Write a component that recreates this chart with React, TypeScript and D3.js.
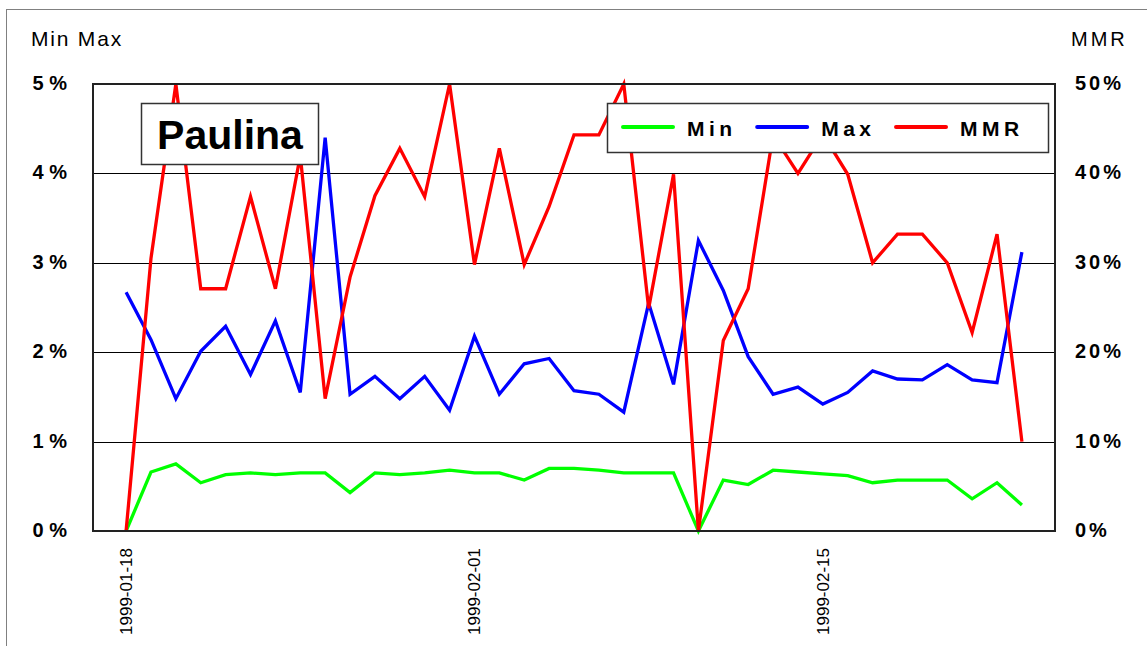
import * as d3 from 'd3';
import React, { useEffect, useRef } from 'react';

// daily values, 1999-01-18 .. 1999-02-23 (percent)
const startDate = '1999-01-18';
const endDate = '1999-02-23';

const minPct = [0, 0.66, 0.75, 0.54, 0.63, 0.65, 0.63, 0.65, 0.65, 0.43, 0.65, 0.63, 0.65, 0.68, 0.65, 0.65, 0.57, 0.70, 0.70, 0.68,
    0.65, 0.65, 0.65, 0, 0.57, 0.52, 0.68, 0.66, 0.64, 0.62, 0.54, 0.57, 0.57, 0.57, 0.36, 0.54, 0.29];

const maxPct = [2.67, 2.14, 1.48, 2.01, 2.29, 1.75, 2.35, 1.55, 4.40, 1.53, 1.73, 1.48, 1.73, 1.35, 2.18, 1.53, 1.87, 1.93, 1.57, 1.53,
    1.33, 2.55, 1.64, 3.25, 2.69, 1.95, 1.53, 1.61, 1.42, 1.55, 1.79, 1.70, 1.69, 1.86, 1.69, 1.66, 3.12];

const mmrPct = [0, 30.5, 50, 27.1, 27.1, 37.4, 27.1, 42, 14.8, 28.4, 37.5, 42.8, 37.4, 50, 29.8, 42.8, 29.8, 36.3, 44.3, 44.3,
    50, 24.9, 39.9, 0, 21.3, 27.1, 44.3, 40, 44.4, 39.9, 30, 33.2, 33.2, 30, 22.2, 33.2, 10];

const xTickLabels = ['1999-01-18', '1999-02-01', '1999-02-15'];
const leftTicks = [0, 1, 2, 3, 4, 5];
const rightTicks = [0, 10, 20, 30, 40, 50];

const seriesNames = ['Min', 'Max', 'MMR'];
const seriesColors = ['#00ff00', '#0000ff', '#ff0000'];

const FONT = 'Liberation Sans, Arial, Helvetica, sans-serif';

export default function App() {
    const ref = useRef<SVGSVGElement>(null);

    useEffect(() => {
        const width = 1147, height = 646;
        const plot = { left: 93, top: 84, right: 1055, bottom: 531 };

        const svg = d3.select(ref.current);
        svg.selectAll('*').remove();

        const parse = d3.utcParse('%Y-%m-%d');
        const dates = d3.utcDay.range(parse(startDate)!, d3.utcDay.offset(parse(endDate)!, 1));

        // category-like time axis with some room on both sides
        const padDays = 1.33;
        const x = d3.scaleUtc()
            .domain([new Date(+dates[0] - padDays * 864e5), new Date(+dates[dates.length - 1] + padDays * 864e5)])
            .range([plot.left, plot.right]);

        const yLeft = d3.scaleLinear().domain([0, 5]).range([plot.bottom, plot.top]);
        const yRight = d3.scaleLinear().domain([0, 50]).range([plot.bottom, plot.top]);

        // outer frame
        svg.append('rect')
            .attr('x', 6.5).attr('y', 9.5)
            .attr('width', width + 10).attr('height', height + 10)
            .attr('fill', 'white')
            .attr('stroke', '#808080')
            .attr('stroke-width', 1);

        // axis titles
        svg.append('text')
            .attr('x', 31).attr('y', 46)
            .attr('font-family', FONT).attr('font-size', 21)
            .attr('letter-spacing', 1.8)
            .attr('fill', '#000')
            .text('Min Max');

        svg.append('text')
            .attr('x', 1071).attr('y', 46)
            .attr('font-family', FONT).attr('font-size', 20)
            .attr('letter-spacing', 3)
            .attr('fill', '#000')
            .text('MMR');

        // gridlines
        svg.append('g')
            .selectAll('line')
            .data(leftTicks.filter((t) => t > 0 && t < 5))
            .join('line')
            .attr('x1', plot.left).attr('x2', plot.right)
            .attr('y1', (d) => Math.round(yLeft(d)) + 0.5)
            .attr('y2', (d) => Math.round(yLeft(d)) + 0.5)
            .attr('stroke', '#000')
            .attr('stroke-width', 1);

        // left axis labels
        svg.append('g')
            .selectAll('text')
            .data(leftTicks)
            .join('text')
            .attr('x', 67)
            .attr('y', (d) => yLeft(d) - 1)
            .attr('dominant-baseline', 'central')
            .attr('text-anchor', 'end')
            .attr('font-family', FONT).attr('font-size', 20).attr('font-weight', 'bold')
            .text((d) => `${d} %`);

        // right axis labels
        svg.append('g')
            .selectAll('text')
            .data(rightTicks)
            .join('text')
            .attr('x', 1075)
            .attr('y', (d) => yRight(d) - 1)
            .attr('dominant-baseline', 'central')
            .attr('text-anchor', 'start')
            .attr('font-family', FONT).attr('font-size', 20).attr('font-weight', 'bold')
            .attr('letter-spacing', 3)
            .text((d) => `${d}%`);

        // x labels, rotated
        svg.append('g')
            .selectAll('text')
            .data(xTickLabels)
            .join('text')
            .attr('transform', (d) => `translate(${x(parse(d)!) + 6},548) rotate(-90)`)
            .attr('text-anchor', 'end')
            .attr('font-family', FONT).attr('font-size', 17)
            .text((d) => d);

        // series
        const series = [minPct.map((v) => yLeft(v)), maxPct.map((v) => yLeft(v)), mmrPct.map((v) => yRight(v))];
        const line = d3.line<number>()
            .x((_, i) => x(dates[i]))
            .y((d) => d);

        series.forEach((s, i) => {
            svg.append('path')
                .datum(s)
                .attr('d', line)
                .attr('fill', 'none')
                .attr('stroke', seriesColors[i])
                .attr('stroke-width', 3.3)
                .attr('stroke-linejoin', 'miter')
                .attr('stroke-miterlimit', 4);
        });

        // plot area border
        svg.append('rect')
            .attr('x', plot.left).attr('y', plot.top)
            .attr('width', plot.right - plot.left).attr('height', plot.bottom - plot.top)
            .attr('fill', 'none')
            .attr('stroke', '#222')
            .attr('stroke-width', 2);

        // title box
        const tb = svg.append('g');
        tb.append('rect')
            .attr('x', 141.5).attr('y', 103.5)
            .attr('width', 177).attr('height', 61)
            .attr('fill', 'white')
            .attr('stroke', '#333')
            .attr('stroke-width', 1.5);
        tb.append('text')
            .attr('x', 230).attr('y', 149)
            .attr('text-anchor', 'middle')
            .attr('font-family', FONT).attr('font-size', 41).attr('font-weight', 'bold')
            .text('Paulina');

        // legend
        const lg = svg.append('g');
        lg.append('rect')
            .attr('x', 607.5).attr('y', 103.5)
            .attr('width', 441).attr('height', 49)
            .attr('fill', 'white')
            .attr('stroke', '#333')
            .attr('stroke-width', 1.5);

        let cx = 623;
        const ly = 127;
        const ls = 4.5;
        seriesNames.forEach((name, i) => {
            lg.append('line')
                .attr('x1', cx).attr('x2', cx + 50)
                .attr('y1', ly).attr('y2', ly)
                .attr('stroke', seriesColors[i])
                .attr('stroke-width', 4)
                .attr('stroke-linecap', 'round');
            const t = lg.append('text')
                .attr('x', cx + 64).attr('y', ly + 1)
                .attr('dominant-baseline', 'central')
                .attr('font-family', FONT).attr('font-size', 21).attr('font-weight', 'bold')
                .attr('letter-spacing', ls)
                .text(name);
            const w = (t.node() as SVGTextElement).getComputedTextLength();
            cx = cx + 64 + w - ls + 25;
        });
    }, []);

    return (
        <svg ref={ref} width={1147} height={646}
            style={{ position: 'absolute', left: 0, top: 0, display: 'block', background: 'white' }} />
    );
}
